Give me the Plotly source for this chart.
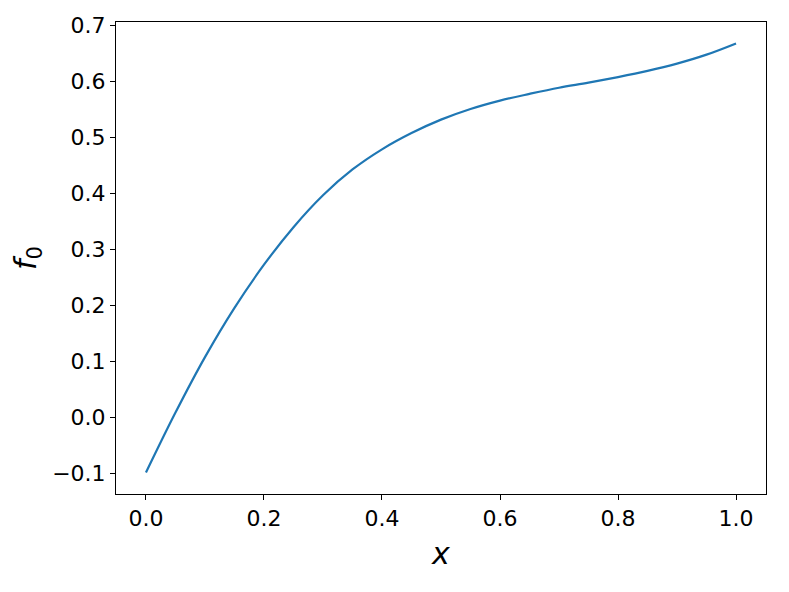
import plotly.graph_objects as go

x_vals = [0.00, 0.05, 0.10, 0.15, 0.20, 0.25, 0.30, 0.35, 0.40, 0.45, 0.50,
          0.55, 0.60, 0.65, 0.70, 0.75, 0.80, 0.85, 0.90, 0.95, 1.00]
f0_vals = [-0.098, 0.009, 0.108, 0.196, 0.273, 0.340, 0.397, 0.443, 0.479, 0.508, 0.532,
           0.551, 0.566, 0.578, 0.589, 0.598, 0.608, 0.619, 0.632, 0.648, 0.668]
x_ticks = [0.0, 0.2, 0.4, 0.6, 0.8, 1.0]
y_ticks = [-0.1, 0.0, 0.1, 0.2, 0.3, 0.4, 0.5, 0.6, 0.7]

fig = go.Figure()
fig.add_trace(go.Scatter(x=x_vals, y=f0_vals, mode="lines",
                         line=dict(color="#1f77b4", width=2.2, shape="spline", smoothing=1)))

axis_common = dict(showline=True, linecolor="black", linewidth=1, mirror=True,
                   ticks="outside", ticklen=5, tickwidth=1, tickcolor="black",
                   showgrid=False, zeroline=False,
                   tickfont=dict(family="DejaVu Sans", size=22, color="black"))

fig.update_layout(
    width=789, height=592,
    margin=dict(l=108, r=31, t=14, b=106, autoexpand=False),
    paper_bgcolor="white", plot_bgcolor="white",
    showlegend=False,
    xaxis=dict(range=[-0.0508, 1.0508], tickvals=x_ticks,
               ticktext=[f"{v:.1f}" for v in x_ticks],
               title=dict(text="<i>x</i>", font=dict(family="DejaVu Sans", size=30, color="black"), standoff=12),
               **axis_common),
    yaxis=dict(range=[-0.1363, 0.7063], tickvals=y_ticks,
               ticktext=[f"{v:.1f}".replace("-", "\u2212") for v in y_ticks],
               title=dict(text="<i>f</i><sub>0</sub>", font=dict(family="DejaVu Sans", size=30, color="black"), standoff=14),
               **axis_common),
)

fig.write_html("out.html")
